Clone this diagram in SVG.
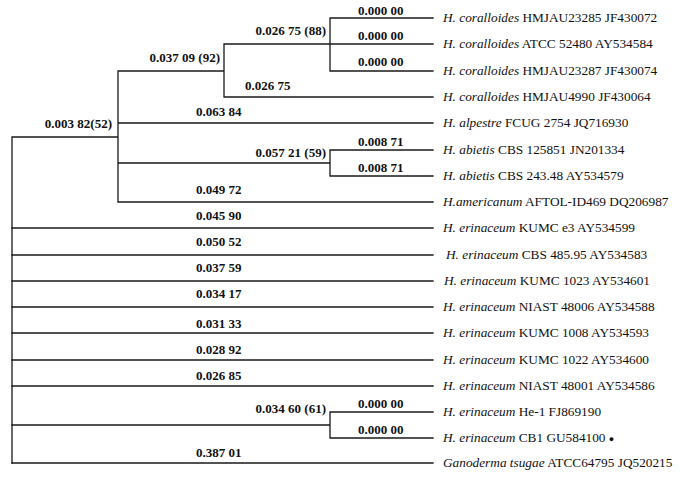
<svg xmlns="http://www.w3.org/2000/svg" width="686" height="478" viewBox="0 0 686 478">
<style>
.e{fill:none;stroke:#1a1a1a;stroke-width:1.3;stroke-linecap:square}
.b{font-family:"Liberation Serif","Times New Roman",serif;font-weight:bold;font-size:13px;fill:#111}
.t{font-family:"Liberation Serif","Times New Roman",serif;font-size:13.3px;fill:#111}
.i{font-style:italic}
.en{text-anchor:end}
</style>
<rect width="686" height="478" fill="#fff"/>
<g id="connectors">
<path class="e" d="M12 137V463M12 137H118M118 71V202M118 71H224M224 44V97M224 44H330M330 18V71M330 18H433M330 44H433M330 71H433M224 97H433M118 123H433M118 163H330M330 150V176M330 150H433M330 176H433M118 202H433"/>
<path class="e" d="M12 228H433M12 255H433M12 281H433M12 307H433M12 333H433M12 360H433M12 386H433M12 425H330M330 412V438M330 412H433M330 438H433M12 463H433"/>
</g>
<g id="branch-labels">
<text class="b en" x="112" y="128">0.003 82(52)</text>
<text class="b en" x="220" y="62">0.037 09 (92)</text>
<text class="b en" x="326" y="35">0.026 75 (88)</text>
<text class="b" x="245" y="90">0.026 75</text>
<text class="b" x="196" y="116">0.063 84</text>
<text class="b en" x="326" y="157">0.057 21 (59)</text>
<text class="b" x="196" y="194">0.049 72</text>
<text class="b" x="196" y="220">0.045 90</text>
<text class="b" x="196" y="246">0.050 52</text>
<text class="b" x="196" y="272">0.037 59</text>
<text class="b" x="196" y="298">0.034 17</text>
<text class="b" x="196" y="328">0.031 33</text>
<text class="b" x="196" y="354">0.028 92</text>
<text class="b" x="196" y="380">0.026 85</text>
<text class="b en" x="326" y="413">0.034 60 (61)</text>
<text class="b" x="196" y="457">0.387 01</text>
<text class="b" x="358" y="15">0.000 00</text>
<text class="b" x="358" y="40">0.000 00</text>
<text class="b" x="358" y="66">0.000 00</text>
<text class="b" x="358" y="146">0.008 71</text>
<text class="b" x="358" y="172">0.008 71</text>
<text class="b" x="358" y="408">0.000 00</text>
<text class="b" x="358" y="434">0.000 00</text>
</g>
<g id="leaf1"><text class="t" x="443" y="22"><tspan class="i">H. coralloides</tspan> HMJAU23285 JF430072</text></g>
<g id="leaf2"><text class="t" x="443" y="48"><tspan class="i">H. coralloides</tspan> ATCC 52480 AY534584</text></g>
<g id="leaf3"><text class="t" x="443" y="75"><tspan class="i">H. coralloides</tspan> HMJAU23287 JF430074</text></g>
<g id="leaf4"><text class="t" x="443" y="101"><tspan class="i">H. coralloides</tspan> HMJAU4990 JF430064</text></g>
<g id="leaf5"><text class="t" x="443" y="127"><tspan class="i">H. alpestre</tspan> FCUG 2754 JQ716930</text></g>
<g id="leaf6"><text class="t" x="443" y="154"><tspan class="i">H. abietis</tspan> CBS 125851 JN201334</text></g>
<g id="leaf7"><text class="t" x="443" y="180"><tspan class="i">H. abietis</tspan> CBS 243.48 AY534579</text></g>
<g id="leaf8"><text class="t" x="443" y="206"><tspan class="i">H.americanum</tspan> AFTOL-ID469 DQ206987</text></g>
<g id="leaf9"><text class="t" x="443" y="232"><tspan class="i">H. erinaceum</tspan> KUMC e3 AY534599</text></g>
<g id="leaf10"><text class="t" x="446" y="259"><tspan class="i">H. erinaceum</tspan> CBS 485.95 AY534583</text></g>
<g id="leaf11"><text class="t" x="444" y="285"><tspan class="i">H. erinaceum</tspan> KUMC 1023 AY534601</text></g>
<g id="leaf12"><text class="t" x="443" y="311"><tspan class="i">H. erinaceum</tspan> NIAST 48006 AY534588</text></g>
<g id="leaf13"><text class="t" x="443" y="337"><tspan class="i">H. erinaceum</tspan> KUMC 1008 AY534593</text></g>
<g id="leaf14"><text class="t" x="443" y="364"><tspan class="i">H. erinaceum</tspan> KUMC 1022 AY534600</text></g>
<g id="leaf15"><text class="t" x="443" y="390"><tspan class="i">H. erinaceum</tspan> NIAST 48001 AY534586</text></g>
<g id="leaf16"><text class="t" x="443" y="416"><tspan class="i">H. erinaceum</tspan> He-1 FJ869190</text></g>
<g id="leaf17"><text class="t" x="443" y="442"><tspan class="i">H. erinaceum</tspan> CB1 GU584100 <tspan font-size="9">●</tspan></text></g>
<g id="leaf18"><text class="t" x="443" y="467"><tspan class="i">Ganoderma tsugae</tspan> ATCC64795 JQ520215</text></g>
</svg>
